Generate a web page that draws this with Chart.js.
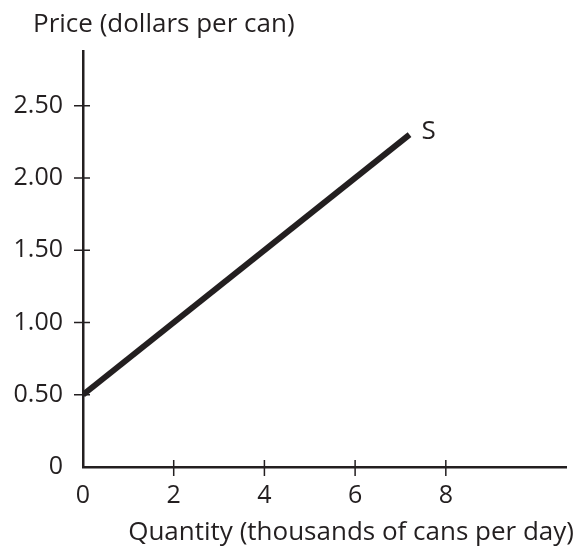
<!DOCTYPE html>
<html>
<head>
<meta charset="utf-8">
<script src="https://cdn.jsdelivr.net/npm/chart.js@4.4.1/dist/chart.umd.min.js"></script>
<style>
  html, body { margin: 0; padding: 0; background: #fff; }
  #wrap { width: 576px; height: 548px; position: relative; }
</style>
</head>
<body>
<div id="wrap"><canvas id="supplyChart"></canvas></div>
<script>
// supply curve S: quantity (thousands of cans per day) vs price (dollars per can)
const quantity = [0, 7.2];
const price = [0.5, 2.3];
const seriesLabel = 'S';

const xTicks = [0, 2, 4, 6, 8];
const yTicks = [0, 0.5, 1, 1.5, 2, 2.5];
const yTickLabels = ['0', '0.50', '1.00', '1.50', '2.00', '2.50'];

const yTitle = 'Price (dollars per can)';
const xTitle = 'Quantity (thousands of cans per day)';

const ink = '#231f20';
const fontFamily = '"Open Sans", Lato, sans-serif';

// tick marks that cross the axis line, like the textbook figure
const crossTicks = {
    id: 'crossTicks',
    afterDraw(chart) {
        const ctx = chart.ctx;
        const xs = chart.scales.x, ys = chart.scales.y;
        const ax = chart.chartArea.left, ay = chart.chartArea.bottom;
        ctx.save();
        ctx.strokeStyle = ink;
        ctx.lineWidth = 1.5;
        ctx.beginPath();
        xTicks.forEach(v => {
            if (v === 0) return;
            const px = xs.getPixelForValue(v);
            ctx.moveTo(px, ay - 7);
            ctx.lineTo(px, ay + 9);
        });
        yTicks.forEach(v => {
            if (v === 0) return;
            const py = ys.getPixelForValue(v);
            ctx.moveTo(ax - 9, py);
            ctx.lineTo(ax + 7, py);
        });
        ctx.stroke();

        // titles and the curve label
        ctx.fillStyle = ink;
        ctx.font = '26px ' + fontFamily;
        ctx.textBaseline = 'alphabetic';
        ctx.textAlign = 'left';
        ctx.fillText(yTitle, 33, 32);
        ctx.textAlign = 'right';
        ctx.fillText(xTitle, 574, 540);

        const last = quantity.length - 1;
        ctx.textAlign = 'left';
        ctx.textBaseline = 'middle';
        ctx.font = '26px ' + fontFamily;
        ctx.fillText(seriesLabel, xs.getPixelForValue(quantity[last]) + 12, ys.getPixelForValue(price[last]) - 3);
        ctx.restore();
    }
};

new Chart(document.getElementById('supplyChart'), {
    type: 'scatter',
    data: {
        datasets: [{
            label: seriesLabel,
            data: quantity.map((q, i) => ({ x: q, y: price[i] })),
            showLine: true,
            borderColor: ink,
            borderWidth: 6,
            borderCapStyle: 'butt',
            pointRadius: 0,
            fill: false
        }]
    },
    options: {
        responsive: true,
        maintainAspectRatio: false,
        animation: false,
        layout: { padding: { top: 51.5, right: 10, left: 0, bottom: 0 } },
        plugins: {
            legend: { display: false },
            tooltip: { enabled: false }
        },
        scales: {
            x: {
                type: 'linear',
                min: 0,
                max: 10.65,
                afterFit: s => { s.height = 81; },
                afterBuildTicks: s => { s.ticks = xTicks.map(v => ({ value: v })); },
                border: { display: true, color: ink, width: 2.5 },
                grid: { display: false, drawTicks: false },
                ticks: {
                    color: ink,
                    padding: 14,
                    font: { family: fontFamily, size: 25 },
                    callback: v => String(v)
                }
            },
            y: {
                type: 'linear',
                min: 0,
                max: 2.875,
                afterFit: s => { s.width = 83; },
                afterBuildTicks: s => { s.ticks = yTicks.map(v => ({ value: v })); },
                border: { display: true, color: ink, width: 2.5 },
                grid: { display: false, drawTicks: false },
                ticks: {
                    color: ink,
                    padding: 20,
                    font: { family: fontFamily, size: 25 },
                    callback: v => yTickLabels[yTicks.indexOf(v)]
                }
            }
        }
    },
    plugins: [crossTicks]
});
</script>
</body>
</html>
